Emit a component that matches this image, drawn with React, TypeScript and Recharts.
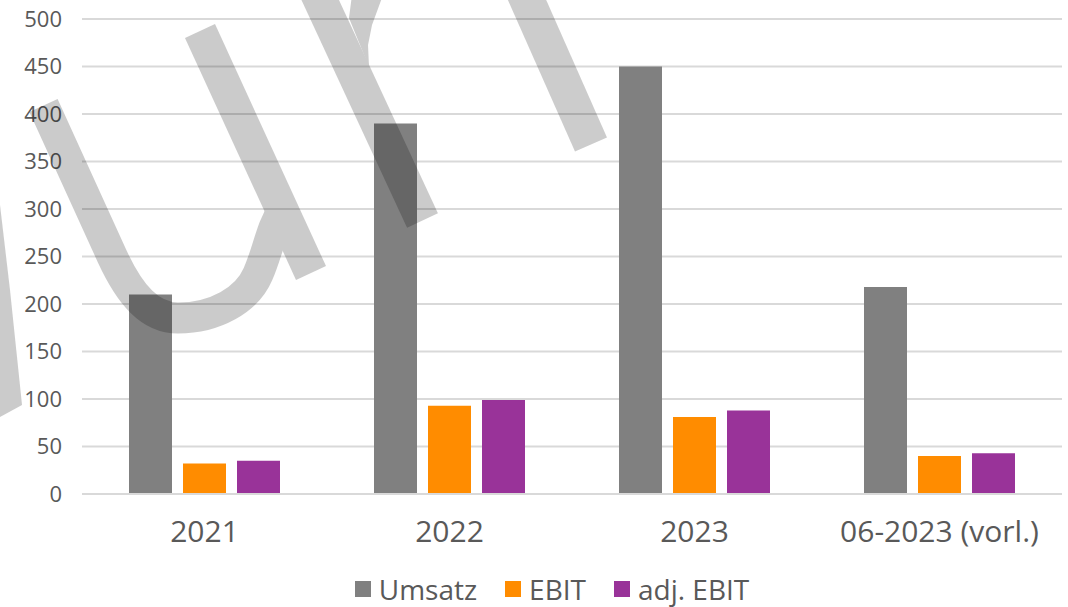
import { BarChart, Bar, XAxis, YAxis, CartesianGrid, Legend } from 'recharts';

const categories = ['2021', '2022', '2023', '06-2023 (vorl.)'];
const umsatz = [210, 390, 450, 218];
const ebit = [32, 93, 81, 40];
const adjEbit = [35, 99, 88, 43];
const yTicks = [0, 50, 100, 150, 200, 250, 300, 350, 400, 450, 500];

const SERIES = [
  { key: 'umsatz', name: 'Umsatz', color: '#808080' },
  { key: 'ebit', name: 'EBIT', color: '#FF8C00' },
  { key: 'adjEbit', name: 'adj. EBIT', color: '#993399' },
];

const data = categories.map((name, i) => ({
  name,
  umsatz: umsatz[i],
  ebit: ebit[i],
  adjEbit: adjEbit[i],
}));

const FONT = '"Open Sans", "Noto Sans", sans-serif';
const TEXT = '#595959';
const GRID = '#d9d9d9';

function LegendBox() {
  return (
    <div
      style={{
        display: 'flex',
        justifyContent: 'center',
        alignItems: 'center',
        height: 53,
        paddingTop: 16,
        paddingLeft: 42,
        boxSizing: 'border-box',
        fontFamily: FONT,
        fontSize: 28,
        color: TEXT,
      }}
    >
      {SERIES.map((s, i) => (
        <div key={s.key} style={{ display: 'flex', alignItems: 'center', marginLeft: i ? 28 : 0 }}>
          <span style={{ width: 16, height: 16, background: s.color, marginRight: 8, display: 'inline-block' }} />
          <span>{s.name}</span>
        </div>
      ))}
    </div>
  );
}

// faint logo watermark lying over the plot
function Watermark() {
  return (
    <svg width={1068} height={607} style={{ position: 'absolute', left: 0, top: 0, pointerEvents: 'none' }}>
      <g opacity={0.2}>
        <polygon points="-40,200 0,205 10,290 22,405 0,417 -40,420" fill="#000" />
        <path
          d="M43.5,105.5 L112,256 C130,295 150,318 178,318 C215,318 247,300 258,274 C265,258 268,244 274,228 L283,208"
          stroke="#000" strokeWidth={31} fill="none"
        />
        <path d="M200,31 L311,273" stroke="#000" strokeWidth={33} fill="none" />
        <path d="M310,-22 L422.5,220.5" stroke="#000" strokeWidth={34} fill="none" />
        <polygon points="349,18 352,-5 383,-5 372,25 368,45 369,67" fill="#000" />
        <path d="M520,-16 L591,144.5" stroke="#000" strokeWidth={35} fill="none" />
      </g>
    </svg>
  );
}

export default function App() {
  return (
    <div style={{ position: 'absolute', left: 0, top: 0, width: 1068, height: 607, background: '#fff' }}>
      <BarChart
        width={1068}
        height={607}
        data={data}
        margin={{ top: 19, right: 6, bottom: 0, left: 0 }}
        barSize={43}
        barGap={11}
      >
        <CartesianGrid vertical={false} stroke={GRID} strokeWidth={2} />
        <XAxis
          dataKey="name"
          height={60}
          axisLine={{ stroke: GRID, strokeWidth: 2 }}
          tickLine={false}
          tickSize={0}
          tickMargin={27}
          tick={{ fill: TEXT, fontSize: 30, fontFamily: FONT }}
        />
        <YAxis
          width={82}
          domain={[0, 500]}
          ticks={yTicks}
          axisLine={false}
          tickLine={false}
          tickSize={0}
          tickMargin={20}
          tick={{ fill: TEXT, fontSize: 22, fontFamily: FONT }}
        />
        <Legend verticalAlign="bottom" height={53} content={() => <LegendBox />} />
        {SERIES.map((s) => (
          <Bar key={s.key} dataKey={s.key} name={s.name} fill={s.color} isAnimationActive={false} />
        ))}
      </BarChart>
      <Watermark />
    </div>
  );
}
